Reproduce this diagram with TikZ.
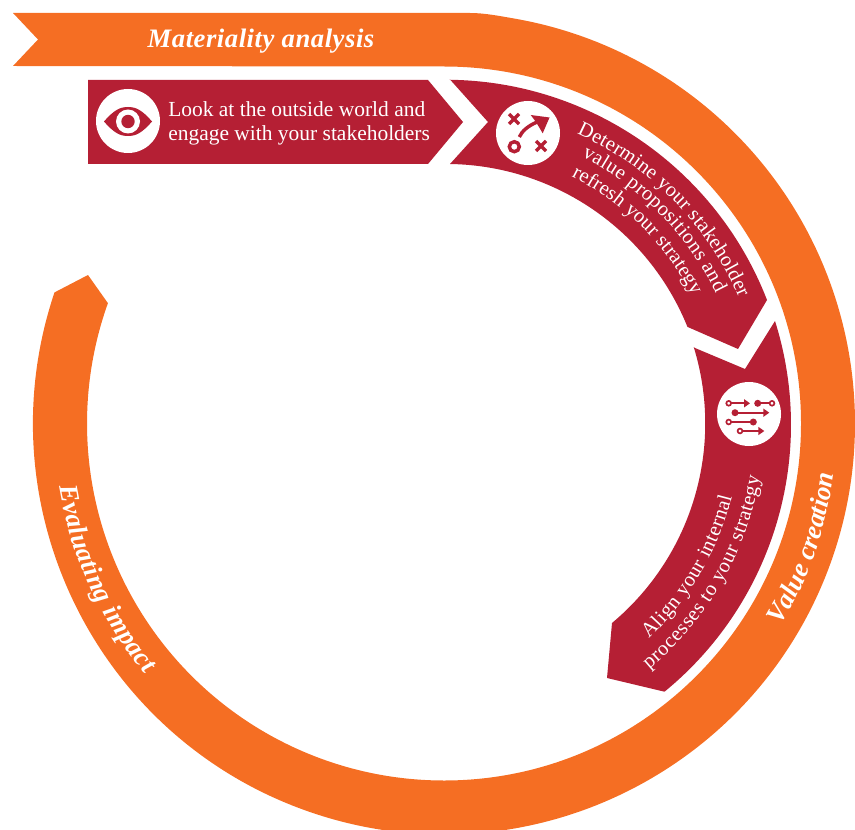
\documentclass[tikz,border=0pt]{standalone}
\usepackage{fontspec}
\setmainfont{Liberation Serif}
\usetikzlibrary{decorations.text,arrows.meta}
\definecolor{porange}{HTML}{F56E23}
\definecolor{pred}{HTML}{B51F34}
\newcommand{\bodyf}{\fontsize{16.1}{18}\selectfont}
\newcommand{\curvef}{\fontsize{15.4}{18}\selectfont}
\newcommand{\headf}{\fontsize{20}{22}\selectfont\bfseries\itshape}
\tikzset{
  band/.style={fill=porange,draw=none},
  redband/.style={fill=pred,draw=none},
  disc/.style={circle,fill=white,draw=none,minimum size=48pt,inner sep=0pt},
  bodytext/.style={text=white,font=\bodyf,align=left,inner sep=0pt,anchor=base west},
  headtext/.style={text=white,font=\headf,inner sep=0pt,anchor=base},
  curved/.style={decorate,decoration={text along path,text color=white,text align={fit to path},text={#1}}},
  icon/.style={draw=pred,line width=2.6pt},
  iconthin/.style={draw=pred,line width=1.25pt},
  flowarrow/.style={iconthin,-{Triangle[length=4.5pt,width=6pt]}},
}
\begin{document}
\begin{tikzpicture}[x=0.75pt,y=-0.75pt]
\useasboundingbox (0,0) rectangle (855,830);
% orange ring, clipped to the page
\begin{scope}
\clip (0,0) rectangle (855,830);
\path[band] (13,13) -- (38,39.5) -- (13,66) -- (444,66.5)
  arc[start angle=-90,delta angle=289.7,radius=357] -- (88,275) -- ([shift={(444,423.5)}]198.6:411)
  arc[start angle=198.6,end angle=-80,radius=411]
  .. controls (500.6,16.2) and (485,13) .. (470,13) -- cycle;
\end{scope}
% red arrows
\path[redband] (88,80) -- (428,80) -- (463,122) -- (428,164) -- (88,164) -- cycle;
\path[redband] (450,79.5) -- (488,122) -- (450,164)
  arc[start angle=-89.1,end angle=-22,radius=260.5] -- (738,349) -- (767,300)
  arc[start angle=-21.2,end angle=-89.3,radius=345] -- cycle;
\path[redband] (695,348) -- (745,369) -- (775,321)
  arc[start angle=-17.5,end angle=50.7,radius=345] -- (607,678) -- (612,623)
  arc[start angle=50.1,end angle=-17.1,radius=260] -- cycle;
% discs
\node[disc] (eye) at (128,121) {};
\node[disc] (play) at (528,133) {};
\node[disc] (flow) at (749,414) {};
% eye icon
\path[fill=pred] (104,121.5) .. controls (114,110) and (120,107) .. (128,107) .. controls (136,107) and (142,110) .. (152,121.5) .. controls (142,133) and (136,136) .. (128,136) .. controls (120,136) and (114,133) .. (104,121.5) -- cycle;
\fill[white] (128,121.5) circle[radius=12];
\fill[pred] (128,121.5) circle[radius=6.7];
% play icon
\draw[icon] (509,114) -- (519,124) (519,114) -- (509,124);
\draw[icon] (536,141) -- (546,151) (546,141) -- (536,151);
\draw[icon] (514.3,146.7) circle[radius=5];
\draw[icon] (519.3,137) .. controls (522,131) and (528,126) .. (537,122);
\path[fill=pred] (549.5,117.5) -- (530.7,115) -- (536,122) -- (542.7,133.3) -- cycle;
% flow icon
\draw[flowarrow] (731.4,403.3) -- (750,403.3);
\draw[iconthin] (728.7,403.3) circle[radius=2.4];
\draw[iconthin] (757.7,403.3) -- (769.4,403.3);
\fill[pred] (757.7,403.3) circle[radius=3.5];
\draw[iconthin] (772,403.3) circle[radius=2.4];
\fill[pred] (735,412.7) circle[radius=3.5];
\draw[flowarrow] (735,412.7) -- (769.3,412.7);
\draw[iconthin] (731.4,422) -- (753.3,422);
\draw[iconthin] (728.7,422) circle[radius=2.4];
\fill[pred] (753.3,422) circle[radius=3.5];
\draw[flowarrow] (742.7,431) -- (764.3,431);
\draw[iconthin] (740,431) circle[radius=2.4];
% straight labels
\node[headtext] (matlabel) at (261,47.5) {\addfontfeature{LetterSpace=2}Materiality analysis};
\node[bodytext] (look1) at (168,116.5) {Look at the outside world and};
\node[bodytext] (look2) at (168,140.5) {engage with your stakeholders};
% curved labels, red band 2 (clockwise)
\begin{scope}[shift={(446,424.5)}]
\path[curved={|\curvef|Determine your stakeholder}] (-65.8:319) arc[start angle=-65.8,end angle=-23.4,radius=319];
\path[curved={|\curvef|value propositions and}] (-63.1:300) arc[start angle=-63.1,end angle=-25.9,radius=300];
\path[curved={|\curvef|refresh your strategy}] (-63.2:278) arc[start angle=-63.2,end angle=-27.6,radius=278];
% red band 3 (counter-clockwise)
\path[curved={|\curvef|Align your internal}] (46.6:295) arc[start angle=46.6,end angle=14.2,radius=295];
\path[curved={|\curvef|processes to your strategy}] (50.3:318) arc[start angle=50.3,end angle=9.4,radius=318];
\end{scope}
% curved labels, orange ring
\begin{scope}[shift={(444,423.5)}]
\path[curved={|\headf|Value creation}] (31:393) arc[start angle=31,end angle=8.3,radius=393];
\path[curved={|\headf|Evaluating impact}] (170.7:390) arc[start angle=170.7,end angle=140,radius=390];
\end{scope}
\end{tikzpicture}
\end{document}
